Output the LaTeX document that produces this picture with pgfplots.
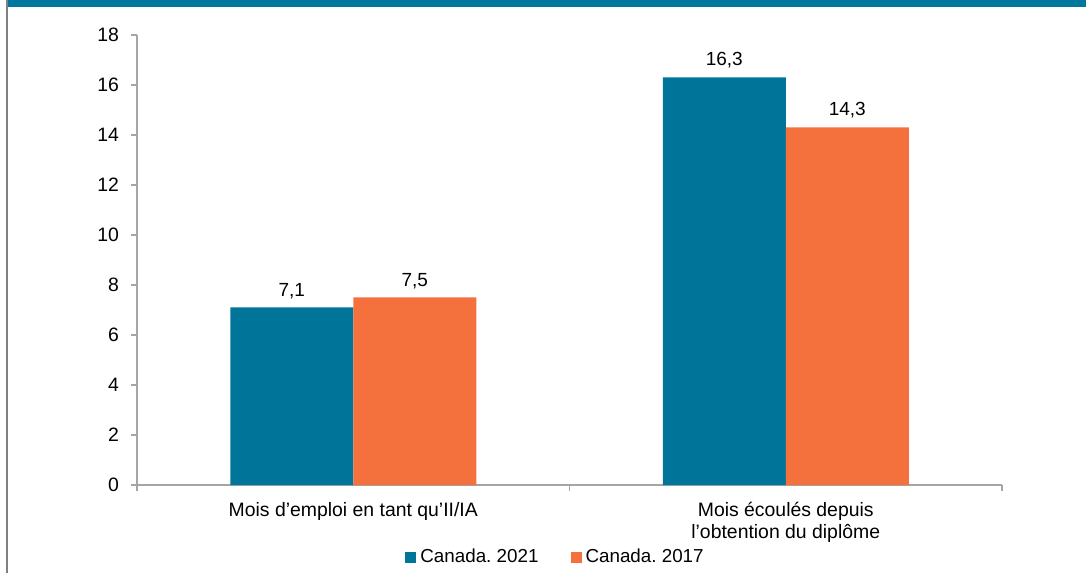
\documentclass[border=0pt]{standalone}
\usepackage{fontspec}
\setmainfont{Liberation Sans}
\usepackage{pgfplots}
\pgfplotsset{compat=1.18}
\definecolor{teal21}{RGB}{0,117,153}
\definecolor{orange17}{RGB}{244,112,61}
\definecolor{band}{RGB}{0,120,158}
\definecolor{axgray}{RGB}{165,165,165}
\definecolor{frame}{RGB}{128,128,128}
\frenchspacing

\begin{document}
\begin{tikzpicture}[x=1pt,y=1pt]
\path[use as bounding box] (0,0) rectangle (543,286.5);
\fill[band] (3,283) rectangle (543,286.5);
\draw[frame, line width=1pt] (3.3,0) -- (3.3,286.5);
\begin{axis}[
	at={(68.5pt,44pt)}, anchor=south west,
	scale only axis, width=432.5pt, height=225pt,
	xmin=-0.5, xmax=1.5, ymin=0, ymax=18,
	axis x line=bottom, axis y line=left,
	axis line style={-, draw=axgray, line width=0.6pt},
	tick style={draw=axgray, line width=0.6pt},
	tick align=outside, major tick length=3pt,
	ytick={0,2,...,18},
	yticklabel style={xshift=-2.5pt},
	xtick={-0.5,0.5,1.5},
	x tick label as interval,
	xticklabels={Mois d’emploi en tant qu’II/IA, {Mois écoulés depuis\\l’obtention du diplôme}},
	xticklabel style={align=center, yshift=-2pt},
	tick label style={font=\fontsize{9.7}{11}\selectfont},
	/pgf/number format/assume math mode=true,
	ybar=0pt, bar width=61.5pt,
	nodes near coords,
	nodes near coords style={font=\fontsize{9.5}{11}\selectfont, yshift=1pt,
		/pgf/number format/.cd, fixed, fixed zerofill, precision=1, use comma, assume math mode=true},
	legend style={at={(0.485,-0.16)}, anchor=center, draw=none, fill=none,
		legend columns=2, font=\fontsize{9.4}{11}\selectfont,
		/tikz/every even column/.append style={column sep=14pt}},
	legend image code/.code={\fill[#1] (0pt,-2.75pt) rectangle (5.5pt,2.75pt);},
	]
	\addplot[fill=teal21, draw=none] coordinates {(0,7.1) (1,16.3)};
	\addlegendentry{Canada. 2021}
	\addplot[fill=orange17, draw=none] coordinates {(0,7.5) (1,14.3)};
	\addlegendentry{Canada. 2017}
\end{axis}
\end{tikzpicture}
\end{document}
